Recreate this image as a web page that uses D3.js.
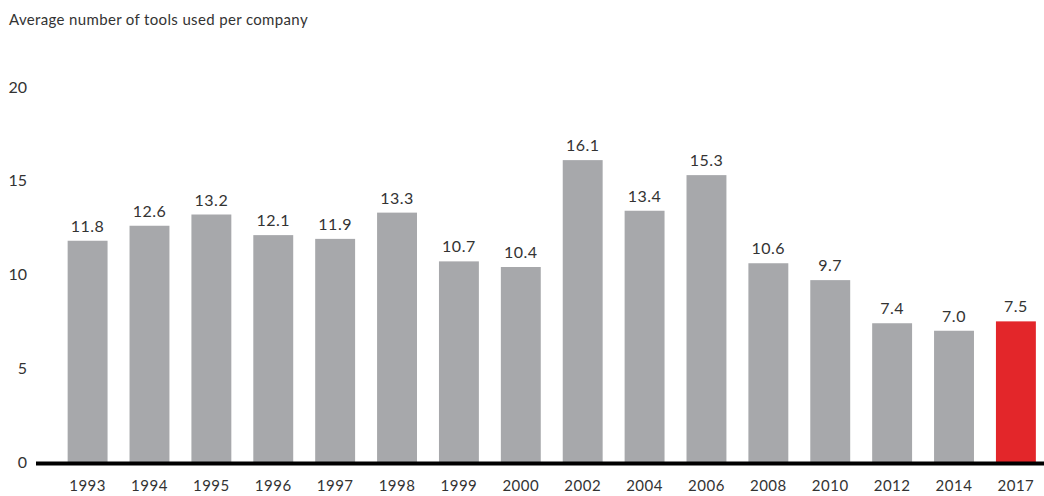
<!DOCTYPE html>
<html lang="en">
<head>
  <meta charset="UTF-8" />
  <title>Average number of tools used per company</title>
  <script src="https://d3js.org/d3.v7.min.js"></script>
  <style>
    body { margin: 0; background: #fff; }
    svg { display: block; font-family: "Lato", "Open Sans", sans-serif; }
  </style>
</head>
<body>
  <svg width="1044" height="496"></svg>
  <script>
    // Data
    const years = ["1993", "1994", "1995", "1996", "1997", "1998", "1999", "2000",
                   "2002", "2004", "2006", "2008", "2010", "2012", "2014", "2017"];
    const values = [11.8, 12.6, 13.2, 12.1, 11.9, 13.3, 10.7, 10.4,
                    16.1, 13.4, 15.3, 10.6, 9.7, 7.4, 7.0, 7.5];
    const yTicks = [0, 5, 10, 15, 20];
    const highlight = "2017";

    const svg = d3.select("svg");
    const data = years.map((y, i) => ({ year: y, value: values[i] }));

    const x = d3.scaleBand()
      .domain(years)
      .range([56.5, 1047])
      .paddingInner(0.355)
      .paddingOuter(0.18);

    const y = d3.scaleLinear()
      .domain([0, 20])
      .range([462, 87]);

    // title
    svg.append("text")
      .attr("x", 9)
      .attr("y", 25)
      .attr("font-size", 15)
      .attr("letter-spacing", 0.35)
      .attr("fill", "#333")
      .text("Average number of tools used per company");

    // y tick labels
    svg.append("g")
      .selectAll("text")
      .data(yTicks)
      .enter()
      .append("text")
      .attr("x", 27)
      .attr("y", d => y(d))
      .attr("dy", "0.35em")
      .attr("text-anchor", "end")
      .attr("font-size", 16)
      .attr("fill", "#333")
      .text(d => d);

    // bars
    svg.append("g")
      .selectAll("rect")
      .data(data)
      .enter()
      .append("rect")
      .attr("x", d => x(d.year))
      .attr("y", d => y(d.value))
      .attr("width", x.bandwidth())
      .attr("height", d => y(0) - y(d.value))
      .attr("fill", d => d.year === highlight ? "#e3262a" : "#a7a8ab");

    // value labels
    svg.append("g")
      .selectAll("text")
      .data(data)
      .enter()
      .append("text")
      .attr("x", d => x(d.year) + x.bandwidth() / 2)
      .attr("y", d => y(d.value) - 9)
      .attr("text-anchor", "middle")
      .attr("font-size", 16)
      .attr("letter-spacing", 0.5)
      .attr("fill", "#333")
      .text(d => d.value.toFixed(1));

    // baseline
    svg.append("line")
      .attr("x1", 36)
      .attr("x2", 1044)
      .attr("y1", y(0) + 1.5)
      .attr("y2", y(0) + 1.5)
      .attr("stroke", "#000")
      .attr("stroke-width", 4);

    // x labels
    svg.append("g")
      .selectAll("text")
      .data(years)
      .enter()
      .append("text")
      .attr("x", d => x(d) + x.bandwidth() / 2)
      .attr("y", 491)
      .attr("text-anchor", "middle")
      .attr("font-size", 15)
      .attr("letter-spacing", 0.5)
      .attr("fill", "#333")
      .text(d => d);
  </script>
</body>
</html>
